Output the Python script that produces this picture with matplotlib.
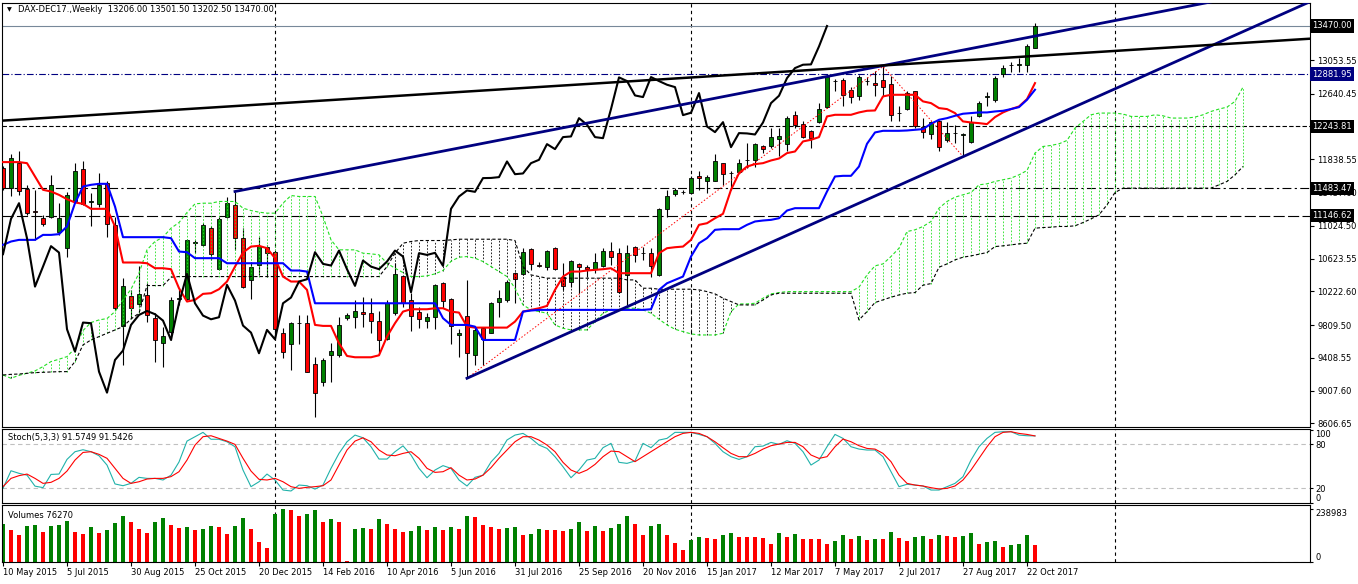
import numpy as np
import matplotlib
matplotlib.use("Agg")
import matplotlib.pyplot as plt
from matplotlib.transforms import blended_transform_factory

# DAX-DEC17 weekly bars, first bar = week of 10 May 2015
opens = [11730, 11485, 11799, 11473, 11200, 11117, 11130, 10954, 10750, 11322,
         11718, 11318, 11289, 11546, 11036, 9799, 10166, 10064, 10178, 9893,
         9586, 9729, 10130, 10125, 10810, 10791, 10995, 10493, 11138, 11281,
         10873, 10362, 10546, 10762, 10709, 9717, 9574, 9836, 9840, 9333,
         9117, 9443, 9443, 9893, 9913, 9966, 9954, 9860, 9639, 9962,
         10411, 10117, 9966, 9864, 9913, 10321, 10125, 9688, 9921, 9443,
         9778, 9709, 10097, 10117, 10444, 10436, 10738, 10546, 10517, 10750,
         10403, 10342, 10554, 10517, 10493, 10538, 10717, 10689, 10423, 10762,
         10697, 10689, 10423, 11228, 11416, 11436, 11424, 11630, 11567, 11567,
         11791, 11669, 11677, 11828, 11824, 12004, 11995, 12085, 12028, 12375,
         12269, 12187, 12293, 12473, 12800, 12808, 12681, 12608, 12792, 12771,
         12808, 12759, 12400, 12453, 12669, 12232, 12150, 12301, 12069, 12159,
         12138, 12056, 12371, 12595, 12567, 12885, 12992, 12996, 12988, 13206]
highs = [11760, 11906, 11934, 11526, 11465, 11158, 11648, 11301, 11444, 11799,
         11812, 11424, 11669, 11567, 11138, 10383, 10240, 10534, 10321, 9954,
         9790, 10158, 10250, 10860, 10852, 11056, 11024, 11138, 11375, 11444,
         10995, 10587, 10893, 10791, 10720, 9770, 9852, 9933, 9933, 9420,
         9403, 9586, 9913, 9954, 10117, 10150, 10138, 9986, 10117, 10566,
         10423, 10207, 10036, 9954, 10313, 10342, 10138, 9758, 10362, 9770,
         9790, 10097, 10240, 10362, 10464, 10750, 10750, 10587, 10730, 10770,
         10566, 10607, 10566, 10546, 10689, 10750, 10832, 10750, 10791, 10779,
         10770, 10750, 11240, 11465, 11485, 11457, 11628, 11689, 11648, 11906,
         11799, 11689, 11840, 12036, 12036, 12016, 12220, 12220, 12363, 12424,
         12302, 12200, 12526, 12853, 12820, 12832, 12722, 12873, 12845, 12914,
         12975, 12853, 12485, 12669, 12675, 12342, 12313, 12322, 12289, 12261,
         12159, 12363, 12547, 12657, 12853, 12996, 13024, 13077, 13253, 13501.5]
lows = [11460, 11383, 11403, 11158, 10852, 11024, 11117, 10913, 10648, 11301,
        11281, 11024, 11260, 10893, 9995, 9321, 9893, 10036, 9852, 9362,
        9301, 9627, 10050, 10117, 10689, 10780, 10607, 10485, 11117, 10730,
        10260, 10125, 10423, 10403, 9627, 9403, 9260, 9578, 9230, 8688,
        9064, 9117, 9423, 9872, 9770, 9790, 9717, 9464, 9627, 9933,
        10036, 9737, 9770, 9770, 9758, 10015, 9578, 9423, 9158, 9321,
        9321, 9709, 9913, 10097, 10076, 10423, 10485, 10525, 10485, 10485,
        10240, 10281, 10199, 10403, 10444, 10525, 10546, 10199, 10056, 10587,
        10607, 10403, 10411, 11138, 11383, 11416, 11416, 11465, 11424, 11567,
        11526, 11465, 11669, 11730, 11750, 11914, 11975, 11873, 11934, 12220,
        12097, 11975, 12281, 12465, 12669, 12485, 12526, 12567, 12751, 12608,
        12608, 12302, 12302, 12444, 12220, 12097, 12085, 11934, 12056, 12036,
        11873, 12036, 12354, 12493, 12534, 12841, 12902, 12902, 12902, 13202.5]
closes = [11485, 11852, 11456, 11187, 11190, 11044, 11526, 11117, 11403, 11689,
          11293, 11326, 11526, 11044, 10015, 10289, 10015, 10191, 9933, 9627,
          9680, 10117, 10140, 10852, 10820, 11036, 10677, 11109, 11301, 10872,
          10280, 10525, 10775, 10697, 9758, 9484, 9840, 9832, 9239, 8982,
          9382, 9497, 9811, 9933, 9982, 9942, 9864, 9627, 10076, 10436,
          10076, 9925, 9880, 9905, 10301, 10109, 9803, 9717, 9464, 9750,
          9635, 10076, 10146, 10342, 10370, 10701, 10558, 10538, 10721, 10493,
          10289, 10599, 10525, 10493, 10587, 10721, 10648, 10211, 10689, 10668,
          10693, 10534, 11232, 11383, 11457, 11440, 11608, 11610, 11620, 11812,
          11656, 11665, 11791, 11832, 12024, 11963, 12110, 12118, 12342, 12261,
          12110, 12097, 12453, 12841, 12796, 12620, 12600, 12845, 12796, 12751,
          12722, 12379, 12408, 12649, 12240, 12171, 12293, 11987, 12159, 12155,
          12142, 12289, 12526, 12616, 12832, 12955, 12996, 13000, 13220, 13470]
volumes = [171810, 144918, 122508, 162846, 167328, 135954, 162846, 167328, 185256, 135954,
           126990, 158364, 131472, 144918, 176292, 207666, 180774, 149400, 131472, 180774,
           198702, 167328, 153882, 158364, 144918, 149400, 162846, 158364, 126990, 162846,
           198702, 149400, 91134, 64242, 216630, 238983, 234558, 207666, 216630, 234558,
           180774, 194220, 180774, 2988, 149400, 152388, 149400, 194220, 171810, 149400,
           135954, 140436, 162846, 144918, 158364, 144918, 158364, 149400, 207666, 203184,
           167328, 158364, 149400, 152388, 155376, 122508, 126990, 149400, 144918, 143424,
           140436, 149400, 180774, 140436, 162846, 140436, 153882, 171810, 207666, 171810,
           122508, 162846, 171810, 122508, 86652, 55278, 100098, 113544, 109062, 104580,
           122508, 131472, 113544, 112050, 110556, 109062, 82170, 131472, 113544, 126990,
           104580, 103086, 101592, 82170, 95616, 122508, 104580, 118026, 100098, 104580,
           103086, 135954, 109062, 95616, 113544, 118026, 104580, 122508, 118026, 113544,
           118026, 131472, 82170, 91134, 95616, 68724, 77688, 82170, 122508, 76270]

# Ichimoku(9,26,52) as drawn on the chart
tenkan = [11804, 11804, 11804, 11791, 11628, 11465, 11444, 11403, 11350, 11310,
          11293, 11232, 11232, 11232, 11016, 10575, 10575, 10575, 10566, 10505,
          10505, 10493, 10260, 10097, 10117, 10191, 10199, 10248, 10342, 10525,
          10697, 10770, 10779, 10750, 10628, 10403, 10342, 10342, 10240, 9811,
          9799, 9799, 9586, 9431, 9415, 9415, 9415, 9439, 9668, 9832,
          9974, 10003, 10003, 10003, 10015, 10015, 9974, 9962, 9791, 9778,
          9778, 9778, 9778, 9778, 9852, 9974, 9995, 10015, 10044, 10240,
          10403, 10464, 10464, 10477, 10485, 10493, 10505, 10444, 10444, 10444,
          10444, 10444, 10689, 10750, 10762, 10770, 10852, 11036, 11056, 11117,
          11171, 11465, 11669, 11750, 11779, 11791, 11824, 11848, 11914, 11934,
          12057, 12077, 12110, 12363, 12383, 12383, 12383, 12412, 12432, 12436,
          12608, 12628, 12628, 12628, 12628, 12547, 12526, 12465, 12453, 12404,
          12302, 12289, 12281, 12269, 12355, 12412, 12453, 12485, 12575, 12771]
kijun = [10791, 10832, 10852, 10852, 10852, 10913, 10913, 10922, 11016, 11301,
         11505, 11526, 11538, 11538, 11260, 10885, 10885, 10885, 10885, 10885,
         10885, 10873, 10709, 10701, 10628, 10628, 10628, 10628, 10566, 10566,
         10566, 10566, 10566, 10566, 10566, 10566, 10477, 10477, 10464, 10076,
         10076, 10076, 10076, 10076, 10076, 10076, 10076, 10076, 10076, 10076,
         10076, 10076, 10076, 10076, 10076, 9893, 9811, 9811, 9811, 9790,
         9627, 9627, 9627, 9627, 9627, 9974, 9987, 9995, 9995, 9995,
         9995, 9995, 9995, 9995, 9995, 9995, 9995, 9995, 9995, 9995,
         9995, 10003, 10240, 10321, 10362, 10403, 10648, 10811, 10873, 10975,
         10983, 10983, 10983, 11036, 11077, 11089, 11097, 11117, 11211, 11240,
         11240, 11240, 11240, 11444, 11628, 11636, 11636, 11750, 12028, 12167,
         12187, 12187, 12187, 12191, 12200, 12208, 12273, 12322, 12342, 12371,
         12396, 12404, 12412, 12412, 12424, 12432, 12453, 12477, 12567, 12690]
# senkou spans, already displaced 26 bars forward
span_a = [9198, 9158, 9194, 9219, 9248, 9301, 9362, 9391, 9423, 9525,
          9742, 9840, 9872, 9889, 9974, 10117, 10248, 10444, 10730, 10832,
          10885, 10995, 11064, 11187, 11293, 11301, 11301, 11322, 11322, 11322,
          11240, 11211, 11191, 11179, 11179, 11301, 11395, 11383, 11383, 11383,
          11138, 10852, 10730, 10730, 10730, 10689, 10681, 10669, 10566, 10505,
          10452, 10403, 10403, 10411, 10436, 10477, 10590, 10640, 10648, 10628,
          10587, 10525, 10464, 10403, 10260, 10056, 9995, 9974, 9954, 9811,
          9770, 9750, 9750, 9750, 9852, 9954, 9995, 9995, 10015, 10015,
          9995, 9954, 9880, 9811, 9758, 9729, 9701, 9688, 9688, 9688,
          9709, 9974, 10068, 10068, 10076, 10138, 10191, 10207, 10219, 10219,
          10219, 10219, 10219, 10219, 10219, 10219, 10219, 10273, 10423, 10534,
          10558, 10648, 10750, 10954, 10975, 11016, 11077, 11240, 11322, 11375,
          11403, 11432, 11526, 11538, 11567, 11587, 11608, 11648, 11701, 11914,
          11995, 12008, 12028, 12069, 12220, 12302, 12383, 12404, 12404, 12404,
          12392, 12363, 12363, 12363, 12383, 12371, 12343, 12343, 12343, 12355,
          12383, 12424, 12453, 12477, 12547, 12722]
span_b = [9198, 9206, 9210, 9219, 9227, 9231, 9235, 9239, 9239, 9362,
          9566, 9627, 9668, 9709, 9750, 9790, 9884, 9954, 10293, 10293,
          10293, 10395, 10403, 10403, 10403, 10403, 10403, 10403, 10403, 10403,
          10403, 10403, 10403, 10403, 10403, 10403, 10403, 10403, 10403, 10403,
          10403, 10403, 10403, 10403, 10403, 10403, 10403, 10403, 10525, 10689,
          10811, 10832, 10844, 10844, 10844, 10844, 10852, 10860, 10860, 10860,
          10860, 10860, 10860, 10860, 10844, 10525, 10423, 10403, 10383, 10383,
          10383, 10383, 10383, 10383, 10383, 10383, 10383, 10383, 10362, 10362,
          10260, 10260, 10248, 10248, 10248, 10248, 10248, 10240, 10219, 10191,
          10138, 10097, 10056, 10056, 10056, 10117, 10178, 10199, 10199, 10199,
          10199, 10199, 10199, 10199, 10199, 10199, 10199, 9872, 9974, 10085,
          10117, 10150, 10178, 10199, 10207, 10297, 10317, 10517, 10558, 10607,
          10640, 10656, 10677, 10697, 10770, 10779, 10791, 10803, 10811, 10995,
          11003, 11007, 11016, 11016, 11024, 11064, 11109, 11158, 11281, 11432,
          11485, 11485, 11485, 11485, 11485, 11485, 11485, 11485, 11485, 11485,
          11485, 11485, 11526, 11567, 11648, 11750]

stoch_main = [20, 44, 40.5, 38, 23, 21, 39, 39.5, 59.5, 70,
              72.7, 70, 64.5, 51.8, 26, 23.6, 26.8, 35, 33.6, 33.6,
              31.4, 38, 56, 84.5, 90.5, 96.4, 87, 87, 83.6, 76.8,
              45, 22.3, 29, 39.5, 31.4, 17.7, 16.4, 24.5, 23.6, 19,
              24.5, 47.3, 67.7, 83.6, 92.7, 89, 76.8, 60, 60, 70,
              78, 65.5, 47.3, 34.5, 45, 51, 47.3, 31.4, 23.2, 35,
              38, 56, 67.7, 86, 92.7,
              95, 88.2, 79.1, 74.5, 63.2, 49.5, 34.5, 45, 58.6, 60.9,
              75.5, 81.4, 55.5, 54.1, 57.3, 81.4, 75.5, 85.9, 88.2, 96.4,
              96.4, 96.4, 93.6, 90.5, 81.4, 70, 63.2, 59.5, 63.2, 76.8,
              77.7, 82.7, 80, 85, 81.4, 70, 51.8, 58.6, 76.8, 93.6,
              88.2, 76.8, 73.6, 72.3, 72.3, 63.2, 42.7, 22.3, 25.5, 24.5,
              23.2, 17.7, 17.7, 22.3, 26.8, 35.9, 58.6, 76.8, 88.2, 96.4,
              97.3, 97.3, 92.7, 91.8, 91.57]
stoch_signal = [22.3, 33.6, 37.3, 39.5, 33.6, 26.8, 28.2, 33.6, 43.6, 58.6,
                69, 70, 66.4, 61, 47.3, 33.6, 26.8, 29, 32.7, 33.6,
                33.6, 36, 42.7, 58.6, 79, 90.5, 91.8, 88.2, 84.5, 80,
                61, 43.6, 32.3, 31.4, 33.6, 29, 22.3, 20, 21.4, 22.3,
                23.6, 31.4, 51.8, 72.3, 84.5, 89, 83.6, 72.3, 65.5, 64.5,
                67.7, 70, 61, 47.3, 41.8, 42.7, 48.2, 38, 31.4, 32.7,
                38, 48.2, 61, 72.3, 83.6,
                90.5, 90.5, 85.9, 79.1, 70, 55.5, 45, 40.5, 45, 52.7,
                63.2, 70.9, 70, 63.2, 56.4, 63.2, 70, 76.8, 83.6, 90.5,
                95, 96.4, 95, 90.5, 83.6, 75.5, 67.7, 63.2, 63.2, 67.7,
                73.6, 78.2, 80.5, 82.7, 82.7, 76.8, 65.5, 60.9, 63.2, 76.8,
                87.3, 83.6, 78.2, 74.5, 73.6, 67.7, 56.4, 38.2, 26.8, 24.5,
                23.2, 20.9, 19.1, 20, 23.2, 31.4, 45, 60.9, 76.8, 90.5,
                96.4, 97.3, 95, 93.6, 91.54]

date_labels = ["10 May 2015", "5 Jul 2015", "30 Aug 2015", "25 Oct 2015", "20 Dec 2015",
               "14 Feb 2016", "10 Apr 2016", "5 Jun 2016", "31 Jul 2016", "25 Sep 2016",
               "20 Nov 2016", "15 Jan 2017", "12 Mar 2017", "7 May 2017", "2 Jul 2017",
               "27 Aug 2017", "22 Oct 2017"]
price_ticks = [13053.55, 12640.45, 11838.55, 11437.60, 11024.50, 10623.55,
               10222.60, 9809.50, 9408.55, 9007.60, 8606.65]
year_starts = [34, 86, 139]          # period separators (first week of each year)

# drawn objects: (bar, price) anchors
upper_ray = ([29, 110], [11444, 12985])
lower_ray = ([58, 120], [9158, 11870])
long_ray = ([0, 110], [12312, 12987])
zigzag = ([58, 110, 120], [9158, 12975, 11873])
levels = [12881.95, 12243.81, 11483.47, 11146.62]
last_price = 13470.00

W, H = 1358, 584
FS = 6.0
GREEN, RED, LIME, NAVY = "#008000", "#ff0000", "#22e022", "#000080"


def frame(top, bottom):
    return [2 / W, 1 - bottom / H, 1308 / W, (bottom - top) / H]


def ray(ax, anchors, x0, x1, **kw):
    (xa, xb), (ya, yb) = anchors
    k = (yb - ya) / (xb - xa)
    xx = np.array([x0, x1], float)
    ax.plot(xx, ya + k * (xx - xa), **kw)


fig = plt.figure(figsize=(W / 100, H / 100), dpi=100)
ax = fig.add_axes(frame(3, 427))
ax_st = fig.add_axes(frame(429, 503))
ax_v = fig.add_axes(frame(505, 562))

n = len(closes)
x = np.arange(n)
o, h, l, c = (np.asarray(v, float) for v in (opens, highs, lows, closes))
xlim = (-0.125, 163.375)

for a in (ax, ax_st, ax_v):
    a.set_xlim(*xlim)
    for s in a.spines.values():
        s.set_linewidth(0.8)
    for ys in year_starts:
        a.axvline(ys, color="black", lw=0.8, ls=(0, (3, 3)), zorder=1)

# --- main chart
ax.set_ylim(8561.4, 13751.5)

ax.vlines(x, l, h, color="black", lw=0.8, zorder=2)
ax.bar(x, np.abs(c - o), bottom=np.minimum(o, c), width=0.62,
       color=np.where(c >= o, GREEN, RED), edgecolor="black", lw=0.6, zorder=2.1)

sa, sb = np.asarray(span_a, float), np.asarray(span_b, float)
xs = np.arange(len(sa))
ax.vlines(xs, np.minimum(sa, sb), np.maximum(sa, sb),
          colors=np.where(sa >= sb, LIME, "black"), lw=0.6, ls=(0, (2, 2)), zorder=3)
ax.plot(xs, sa, color=LIME, lw=0.8, ls=(0, (3, 2)), zorder=3)
ax.plot(xs, sb, color="black", lw=0.8, ls=(0, (3, 2)), zorder=3)

ax.plot(x, tenkan, color=RED, lw=1.5, zorder=4)
ax.plot(x, kijun, color="#0000ff", lw=1.5, zorder=4)
ax.plot(x[:-26], c[26:], color="black", lw=1.5, zorder=4)   # chikou span

ax.plot(*zigzag, color=RED, lw=0.7, ls=(0, (1.5, 2)), zorder=4)
ray(ax, upper_ray, upper_ray[0][0], 170, color=NAVY, lw=2.0, zorder=5)
ray(ax, lower_ray, lower_ray[0][0], 170, color=NAVY, lw=2.0, zorder=5)
ray(ax, long_ray, -1, 170, color="black", lw=1.8, zorder=5)

ax.axhline(last_price, color="#778899", lw=0.8, zorder=1.5)
styles = [(0, (6, 2, 1, 2)), (0, (4, 2)), (0, (8, 3, 2, 3)), (0, (10, 3))]
lcolors = [NAVY, "black", "black", "black"]
for lvl, st, col in zip(levels, styles, lcolors):
    ax.axhline(lvl, color=col, lw=0.8, ls=st, zorder=1.5)

ax.set_xticks([])
ax.yaxis.tick_right()
ax.set_yticks(price_ticks)
ax.set_yticklabels([f"{p:.2f}" for p in price_ticks])
ax.tick_params(axis="y", length=3, width=0.8, pad=2.2, labelsize=FS)

tr = blended_transform_factory(ax.transAxes, ax.transData)
xl = 1 + 2.3 / 1308
for val, bg in [(last_price, "black")] + list(zip(levels, ["#000080", "black", "black", "black"])):
    ax.text(xl, val, f"{val:.2f}", transform=tr, ha="left", va="center", fontsize=FS,
            color="white", zorder=10, clip_on=False,
            bbox=dict(boxstyle="square,pad=0.25", fc=bg, ec="none"))

fig.text(7 / W, 1 - 10 / H, "\u25bc", fontsize=4.5, va="center")
fig.text(18 / W, 1 - 10 / H, "DAX-DEC17.,Weekly  13206.00 13501.50 13202.50 13470.00",
         fontsize=FS, va="center")

# --- stochastic
ax_st.set_ylim(0, 101)
ax_st.plot(x, stoch_main, color="#20b2aa", lw=0.8)
ax_st.plot(x, stoch_signal, color=RED, lw=0.8)
for lv in (80, 20):
    ax_st.axhline(lv, color="#c0c0c0", lw=0.8, ls=(0, (4, 3)), zorder=0.5)
ax_st.set_xticks([])
ax_st.yaxis.tick_right()
ax_st.set_yticks([100, 80, 20, 0])
ax_st.set_yticklabels(["100", "80", "20", "0"])
ax_st.tick_params(axis="y", length=2, width=0.8, pad=2, labelsize=FS)
st_labels = ax_st.get_yticklabels()
st_labels[0].set_va("top")
st_labels[-1].set_va("bottom")
fig.text(8 / W, 1 - 437.5 / H, "Stoch(5,3,3) 91.5749 91.5426", fontsize=FS, va="center")

# --- volumes
vol = np.asarray(volumes, float)
vcol = [GREEN] + [GREEN if vol[i] > vol[i - 1] else RED for i in range(1, n)]
ax_v.set_ylim(0, 255500)
ax_v.bar(x, vol, width=0.62, color=vcol, zorder=2)
ax_v.axhline(0, color="#c0c0c0", lw=0.8, ls=(0, (4, 3)), zorder=0.5)
ax_v.yaxis.tick_right()
ax_v.set_yticks([max(volumes), 0])
ax_v.set_yticklabels([str(max(volumes)), "0"])
ax_v.tick_params(axis="y", length=2, width=0.8, pad=2, labelsize=FS)
v_labels = ax_v.get_yticklabels()
v_labels[0].set_va("top")
v_labels[1].set_va("bottom")
fig.text(8 / W, 1 - 515 / H, "Volumes 76270", fontsize=FS, va="center")

ax_v.set_xticks(np.arange(0, n, 8))
ax_v.set_xticklabels(date_labels, ha="left")
ax_v.tick_params(axis="x", length=3, width=0.8, pad=1.5, labelsize=FS)

fig.savefig("out.png", dpi=100, facecolor="white")
